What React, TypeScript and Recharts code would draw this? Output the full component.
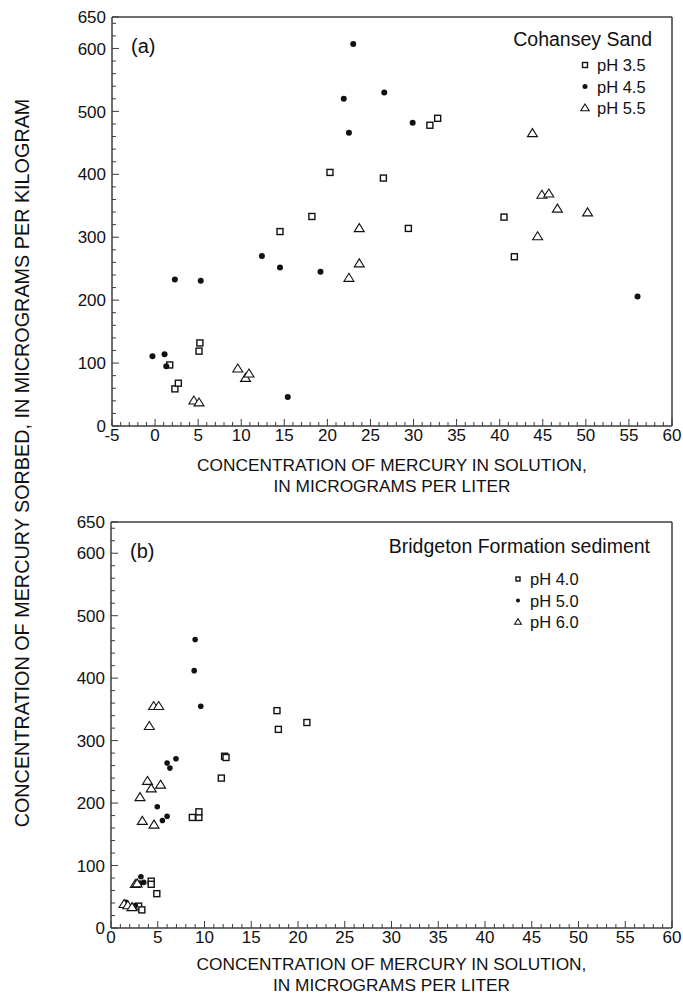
import React from "react";
import { ScatterChart, Scatter, XAxis, YAxis } from "recharts";

// Cohansey Sand: [concentration in solution (ug/L), sorbed (ug/kg)]
const cohanseyPh35: [number, number][] = [
  [1.7, 97], [2.3, 59], [2.7, 68], [5.1, 119], [5.2, 132], [14.5, 309],
  [18.2, 333], [20.3, 403], [26.5, 394], [29.4, 314], [31.9, 478],
  [32.8, 489], [40.5, 332], [41.7, 269],
];
const cohanseyPh45: [number, number][] = [
  [-0.3, 111], [1.1, 114], [1.3, 95], [2.3, 233], [5.3, 231], [12.4, 270],
  [14.5, 252], [15.4, 46], [19.2, 245], [21.9, 520], [22.5, 466],
  [23.0, 607], [26.6, 530], [29.9, 482], [56.0, 206],
];
const cohanseyPh55: [number, number][] = [
  [4.5, 40], [5.1, 37], [9.6, 91], [10.5, 76], [10.9, 83], [22.5, 235],
  [23.7, 258], [23.7, 314], [43.8, 465], [44.4, 301], [44.9, 367],
  [45.7, 369], [46.7, 345], [50.2, 339],
];

// Bridgeton Formation sediment
const bridgetonPh40: [number, number][] = [
  [2.95, 35], [3.3, 29], [4.3, 75], [4.3, 70], [4.9, 55], [8.7, 177],
  [9.4, 177], [9.4, 186], [11.8, 240], [12.15, 275], [12.3, 273],
  [17.75, 348], [17.9, 318], [20.95, 329],
];
const bridgetonPh50: [number, number][] = [
  [1.6, 41], [2.6, 36], [3.06, 72], [3.2, 82], [3.5, 73], [4.95, 194],
  [5.5, 172], [6.0, 179], [6.0, 264], [6.3, 256], [6.95, 271], [8.9, 412],
  [9.0, 462], [9.6, 355],
];
const bridgetonPh60: [number, number][] = [
  [1.4, 38], [1.8, 36], [2.25, 33], [2.6, 70], [2.8, 71], [3.1, 209],
  [3.35, 171], [3.9, 235], [4.1, 323], [4.3, 223], [4.6, 165], [4.56, 355],
  [5.1, 355], [5.3, 229],
];

const legendA = ["pH 3.5", "pH 4.5", "pH 5.5"];
const legendB = ["pH 4.0", "pH 5.0", "pH 6.0"];

const xTicksA = Array.from({ length: 66 }, (_, i) => i - 5);
const xTicksB = Array.from({ length: 61 }, (_, i) => i);
const yTicks = [...Array.from({ length: 33 }, (_, i) => i * 20), 650];

const FONT = "'Liberation Sans', Arial, Helvetica, sans-serif";
const AXIS = "#3c3c3c";
const INK = "#111";

const toPoints = (arr: [number, number][]) => arr.map(([x, y]) => ({ x, y }));

const isMajorX = (v: number) => v % 5 === 0;
const isMajorY = (v: number) => v % 100 === 0 || v === 650;

function BottomTick({ x, y, payload }: any) {
  const v = payload.value;
  const major = isMajorX(v);
  return (
    <g>
      <line x1={x} x2={x} y1={y} y2={y - (major ? 7 : 4)} stroke={AXIS} />
      {major && (
        <text x={x} y={y + 15} textAnchor="middle" fontSize={17} fill={INK} fontFamily={FONT}>
          {v}
        </text>
      )}
    </g>
  );
}

function TopTick({ x, y, payload }: any) {
  const major = isMajorX(payload.value);
  return <line x1={x} x2={x} y1={y} y2={y + (major ? 7 : 4)} stroke={AXIS} />;
}

function LeftTick({ x, y, payload }: any) {
  const v = payload.value;
  const major = isMajorY(v);
  return (
    <g>
      <line x1={x} x2={x + (major ? 7 : 4)} y1={y} y2={y} stroke={AXIS} />
      {major && (
        <text x={x - 6} y={y} dy="0.36em" textAnchor="end" fontSize={17} fill={INK} fontFamily={FONT}>
          {v}
        </text>
      )}
    </g>
  );
}

function RightTick({ x, y, payload }: any) {
  const major = isMajorY(payload.value);
  return <line x1={x} x2={x - (major ? 7 : 4)} y1={y} y2={y} stroke={AXIS} />;
}

const square = (s: number) => (p: any) => (
  <rect x={p.cx - s / 2} y={p.cy - s / 2} width={s} height={s} fill="#fff" stroke={INK} strokeWidth={1.4} />
);
const dot = (r: number) => (p: any) => <circle cx={p.cx} cy={p.cy} r={r} fill={INK} />;
const triangle = (w: number) => (p: any) => {
  const h = w * 0.8;
  return (
    <path
      d={`M${p.cx},${p.cy - h * 0.6} L${p.cx + w / 2},${p.cy + h * 0.4} L${p.cx - w / 2},${p.cy + h * 0.4} Z`}
      fill="#fff"
      stroke={INK}
      strokeWidth={1.1}
    />
  );
};

function LegendSymbol({ kind, cx, cy, size }: { kind: number; cx: number; cy: number; size: number }) {
  if (kind === 0) return square(size)({ cx, cy });
  if (kind === 1) return dot(size / 2)({ cx, cy });
  return triangle(size * 1.7)({ cx, cy });
}

interface PanelProps {
  top: number;
  height: number;
  plot: { top: number; right: number; bottom: number; left: number };
  xDomain: [number, number];
  xTicks: number[];
  squares: [number, number][];
  dots: [number, number][];
  triangles: [number, number][];
  markSize: { sq: number; dot: number; tri: number };
  letter: string;
  header: string;
  headerX: number;
  headerY: number;
  items: string[];
  itemsX: number;
  itemsY: number;
  legendSize: number;
  titleY: number;
}

function Panel(props: PanelProps) {
  const { plot, height } = props;
  // each axis box is 1px deep, so pull the margins in by that much
  const margin = {
    top: plot.top - 1,
    right: 683 - plot.right - 1,
    bottom: height - plot.bottom - 1,
    left: plot.left - 1,
  };
  const centerX = (plot.left + plot.right) / 2;
  const axisLine = { stroke: AXIS, strokeWidth: 1.5 };
  return (
    <div style={{ position: "absolute", left: 0, top: props.top, width: 683, height }}>
      <ScatterChart width={683} height={height} margin={margin}>
        <XAxis
          dataKey="x"
          type="number"
          domain={props.xDomain}
          ticks={props.xTicks}
          interval={0}
          height={1}
          tickSize={0}
          tickMargin={0}
          tickLine={false}
          tick={<BottomTick />}
          axisLine={axisLine}
        />
        <XAxis
          xAxisId="top"
          orientation="top"
          type="number"
          domain={props.xDomain}
          ticks={props.xTicks}
          interval={0}
          height={1}
          tickSize={0}
          tickMargin={0}
          tickLine={false}
          tick={<TopTick />}
          axisLine={axisLine}
        />
        <YAxis
          dataKey="y"
          type="number"
          domain={[0, 650]}
          ticks={yTicks}
          interval={0}
          width={1}
          tickSize={0}
          tickMargin={0}
          tickLine={false}
          tick={<LeftTick />}
          axisLine={axisLine}
        />
        <YAxis
          yAxisId="right"
          orientation="right"
          type="number"
          domain={[0, 650]}
          ticks={yTicks}
          interval={0}
          width={1}
          tickSize={0}
          tickMargin={0}
          tickLine={false}
          tick={<RightTick />}
          axisLine={axisLine}
        />
        <Scatter data={toPoints(props.squares)} shape={square(props.markSize.sq)} isAnimationActive={false} />
        <Scatter data={toPoints(props.dots)} shape={dot(props.markSize.dot)} isAnimationActive={false} />
        <Scatter data={toPoints(props.triangles)} shape={triangle(props.markSize.tri)} isAnimationActive={false} />
      </ScatterChart>
      <svg
        width={683}
        height={height}
        style={{ position: "absolute", left: 0, top: 0, pointerEvents: "none" }}
        fontFamily={FONT}
        fill={INK}
      >
        <text x={plot.left + 19} y={plot.top + 36} fontSize={20}>
          {props.letter}
        </text>
        <text x={props.headerX} y={props.headerY} fontSize={19.5} textAnchor="end">
          {props.header}
        </text>
        {props.items.map((label, i) => (
          <g key={label}>
            <LegendSymbol
              kind={i}
              cx={props.itemsX - 12}
              cy={props.itemsY + i * 21.5 - 6}
              size={props.legendSize}
            />
            <text x={props.itemsX} y={props.itemsY + i * 21.5} fontSize={16.5}>
              {label}
            </text>
          </g>
        ))}
        <text x={centerX} y={props.titleY} fontSize={17.3} textAnchor="middle">
          CONCENTRATION OF MERCURY IN SOLUTION,
        </text>
        <text x={centerX} y={props.titleY + 21} fontSize={17.3} textAnchor="middle">
          IN MICROGRAMS PER LITER
        </text>
      </svg>
    </div>
  );
}

export default function App() {
  return (
    <div
      style={{
        position: "absolute",
        left: 0,
        top: 0,
        width: 683,
        height: 996,
        background: "#fff",
        fontFamily: FONT,
        overflow: "hidden",
      }}
    >
      <Panel
        top={0}
        height={500}
        plot={{ top: 17, right: 672, bottom: 426, left: 112 }}
        xDomain={[-5, 60]}
        xTicks={xTicksA}
        squares={cohanseyPh35}
        dots={cohanseyPh45}
        triangles={cohanseyPh55}
        markSize={{ sq: 6, dot: 3, tri: 10 }}
        letter="(a)"
        header="Cohansey Sand"
        headerX={652}
        headerY={46}
        items={legendA}
        itemsX={597}
        itemsY={71}
        legendSize={5}
        titleY={471}
      />
      <Panel
        top={500}
        height={496}
        plot={{ top: 22, right: 672, bottom: 428, left: 111 }}
        xDomain={[0, 60]}
        xTicks={xTicksB}
        squares={bridgetonPh40}
        dots={bridgetonPh50}
        triangles={bridgetonPh60}
        markSize={{ sq: 6, dot: 2.8, tri: 10 }}
        letter="(b)"
        header="Bridgeton Formation sediment"
        headerX={650}
        headerY={53}
        items={legendB}
        itemsX={530}
        itemsY={85}
        legendSize={4}
        titleY={470}
      />
      <svg
        width={683}
        height={996}
        style={{ position: "absolute", left: 0, top: 0, pointerEvents: "none" }}
      >
        <text
          x={0}
          y={0}
          transform="translate(29 463) rotate(-90)"
          textAnchor="middle"
          fontSize={19.8}
          fontFamily={FONT}
          fill={INK}
        >
          CONCENTRATION OF MERCURY SORBED, IN MICROGRAMS PER KILOGRAM
        </text>
      </svg>
    </div>
  );
}
